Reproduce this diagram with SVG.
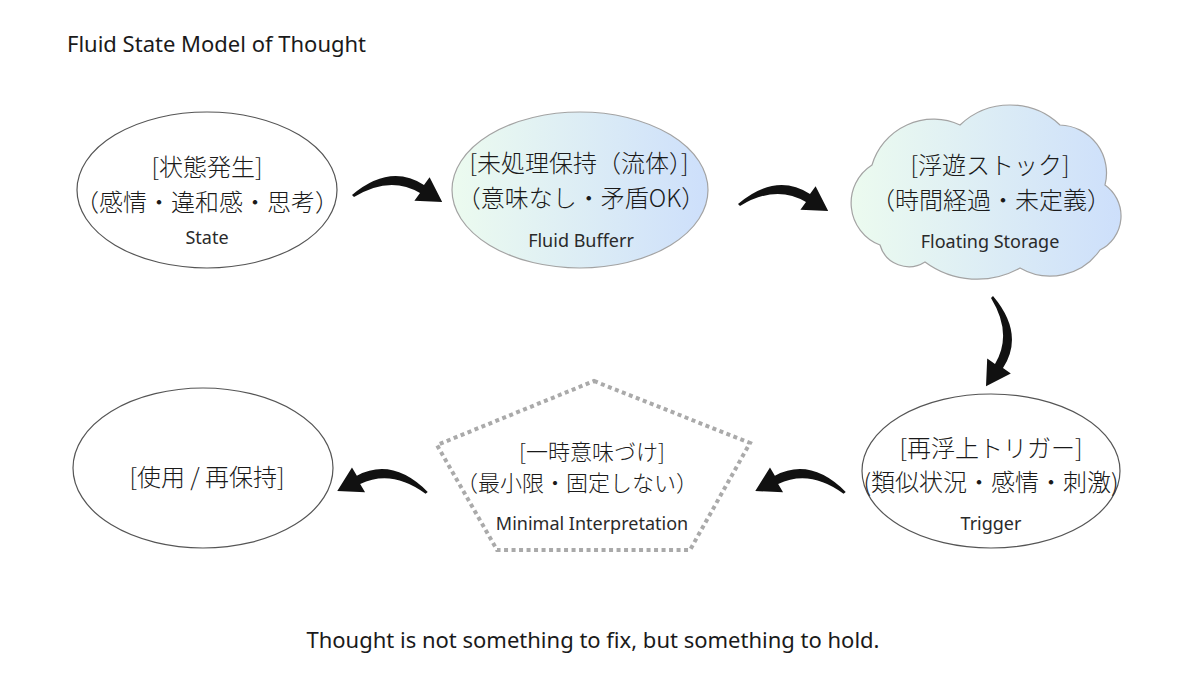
<svg xmlns="http://www.w3.org/2000/svg" width="1200" height="675" viewBox="0 0 1200 675">
  <defs>
    <linearGradient id="fluid" x1="0" y1="0" x2="1" y2="0">
      <stop offset="0" stop-color="#ecfbef"/>
      <stop offset="1" stop-color="#cddffb"/>
    </linearGradient>
    <path id="arrowShape" d="M0,26 Q38,-6 72,16 L77.6,8.2 L90.2,33 L62.4,31.8 L68,24 Q38,6 2,28 Z"/>
  </defs>
  <style>
    .jp { font-family: "Noto Sans CJK JP", "Noto Sans", sans-serif; font-size: 24px; fill: #1a1a1a; text-anchor: middle; font-weight: 300; }
    .en { font-family: "Noto Sans", "Noto Sans CJK JP", sans-serif; font-size: 18px; fill: #2a2a2a; text-anchor: middle; }
    .plain { fill: #ffffff; stroke: #555555; stroke-width: 1.2; }
    .soft { fill: url(#fluid); stroke: #a3a3a3; stroke-width: 1.2; }
    .dotted { fill: #ffffff; stroke: #aaaaaa; stroke-width: 4; stroke-dasharray: 4 3.5; }
    .arrow { fill: #111111; }
    .title { font-family: "Noto Sans", sans-serif; font-size: 22px; fill: #1a1a1a; }
    .caption { font-family: "Noto Sans", sans-serif; font-size: 22px; fill: #1a1a1a; text-anchor: middle; }
  </style>
  <rect width="1200" height="675" fill="#ffffff"/>

  <text class="title" x="67" y="52">Fluid State Model of Thought</text>

  <g id="node-state">
    <ellipse class="plain" cx="207" cy="190" rx="130" ry="78"/>
    <text class="jp" x="207" y="176">[状態発生]</text>
    <text class="jp" x="207" y="211">（感情・違和感・思考）</text>
    <text class="en" x="207" y="244">State</text>
  </g>

  <g id="node-fluid-buffer">
    <ellipse class="soft" cx="580" cy="190" rx="128" ry="78"/>
    <text class="jp" x="579" y="172">[未処理保持（流体）]</text>
    <text class="jp" x="581" y="207">（意味なし・矛盾OK）</text>
    <text class="en" x="581" y="247">Fluid Bufferr</text>
  </g>

  <g id="node-floating-storage">
    <path class="soft" d="M880,245 A45,45 0 0 1 872,165 A64,64 0 0 1 960,125 A72.5,72.5 0 0 1 1060,125 A48,48 0 0 1 1105,185 A38,38 0 0 1 1100,250 A60.5,60.5 0 0 1 1020,268 A87.6,87.6 0 0 1 925,262 A30,30 0 0 1 880,245 Z"/>
    <text class="jp" x="990" y="174">[浮遊ストック]</text>
    <text class="jp" x="991" y="209">（時間経過・未定義）</text>
    <text class="en" x="990" y="248">Floating Storage</text>
  </g>

  <g id="node-trigger">
    <ellipse class="plain" cx="991" cy="471" rx="129" ry="77"/>
    <text class="jp" x="991" y="457">[再浮上トリガー]</text>
    <text class="jp" x="991" y="491">(類似状況・感情・刺激)</text>
    <text class="en" x="991" y="530">Trigger</text>
  </g>

  <g id="node-minimal-interpretation">
    <polygon class="dotted" points="594,381 750,443 690,550 497,550 437,445"/>
    <text class="jp" x="592" y="460" style="font-size:22px">[一時意味づけ]</text>
    <text class="jp" x="577" y="491" style="font-size:22px">（最小限・固定しない）</text>
    <text class="en" x="592" y="530">Minimal Interpretation</text>
  </g>

  <g id="node-use">
    <ellipse class="plain" cx="203" cy="468" rx="130" ry="80"/>
    <text class="jp" x="207" y="486">[使用 / 再保持]</text>
  </g>

  <g id="connectors">
    <use href="#arrowShape" class="arrow" transform="translate(352,169)"/>
    <use href="#arrowShape" class="arrow" transform="translate(738,178)"/>
    <use href="#arrowShape" class="arrow" transform="translate(1019,296) rotate(90)"/>
    <use href="#arrowShape" class="arrow" transform="translate(848,466) scale(-1,1) rotate(-5)"/>
    <use href="#arrowShape" class="arrow" transform="translate(430,466) scale(-1,1) rotate(-5)"/>
  </g>

  <text class="caption" x="593" y="648">Thought is not something to fix, but something to hold.</text>
</svg>
